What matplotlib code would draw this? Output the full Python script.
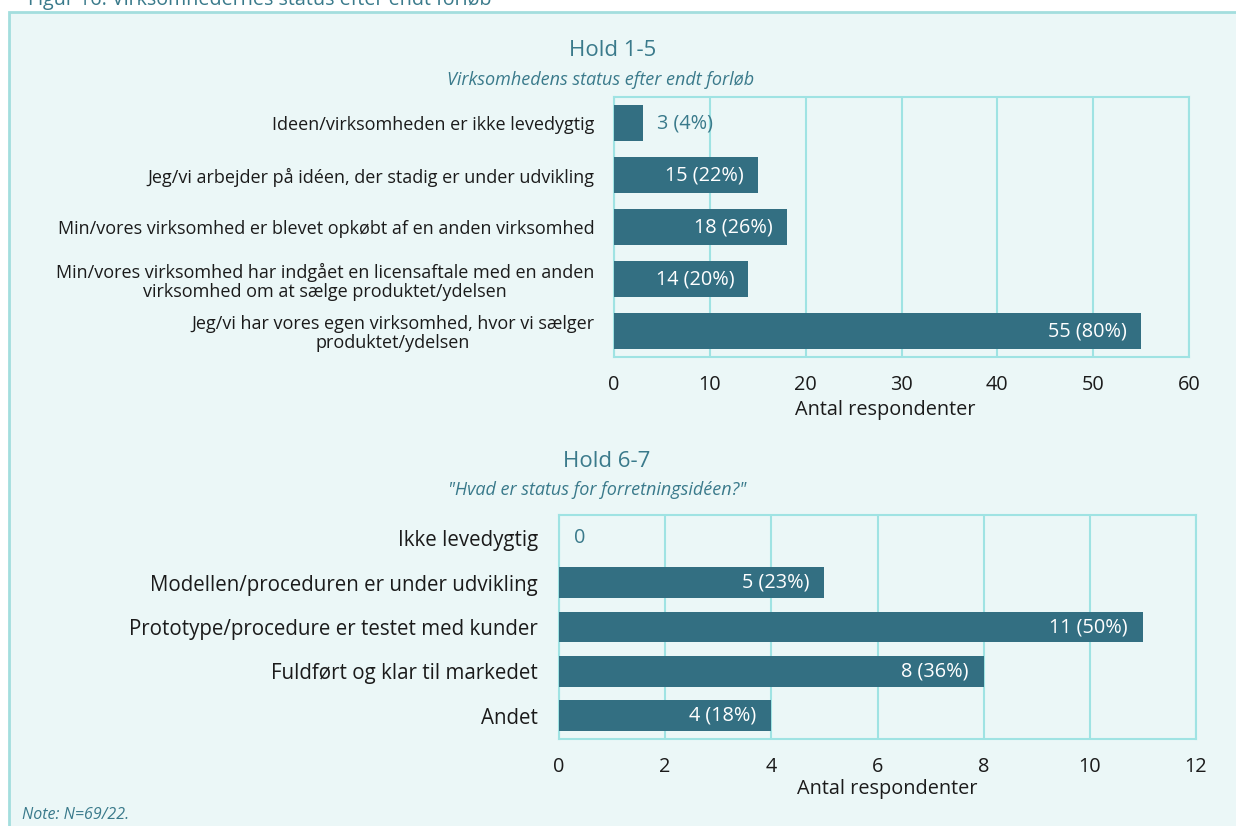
import matplotlib
matplotlib.use("Agg")
import matplotlib.pyplot as plt
from matplotlib.patches import Rectangle

plt.rcParams['font.family'] = ['Open Sans', 'DejaVu Sans']

# ---- data ----
cats1 = ["Ideen/virksomheden er ikke levedygtig",
         "Jeg/vi arbejder på idéen, der stadig er under udvikling",
         "Min/vores virksomhed er blevet opkøbt af en anden virksomhed",
         "Min/vores virksomhed har indgået en licensaftale med en anden\nvirksomhed om at sælge produktet/ydelsen",
         "Jeg/vi har vores egen virksomhed, hvor vi sælger\nproduktet/ydelsen"]
vals1 = [3, 15, 18, 14, 55]
pcts1 = [4, 22, 26, 20, 80]
ticks1 = [0, 10, 20, 30, 40, 50, 60]

cats2 = ["Ikke levedygtig",
         "Modellen/proceduren er under udvikling",
         "Prototype/procedure er testet med kunder",
         "Fuldført og klar til markedet",
         "Andet"]
vals2 = [0, 5, 11, 8, 4]
pcts2 = [0, 23, 50, 36, 18]
ticks2 = [0, 2, 4, 6, 8, 10, 12]

W, H = 1236, 826
BG = "#ebf7f7"
BORDER = "#a3dede"
GRID = "#9fe3e3"
BAR = "#336f82"
TEAL = "#3a7a8b"
DARK = "#1b1b1b"

fig = plt.figure(figsize=(W / 100, H / 100), dpi=100)
fig.patch.set_facecolor("white")
fig.patches.append(Rectangle((9 / W, -0.05), 1.1, 1.05 - 12 / H, transform=fig.transFigure,
                             facecolor=BG, edgecolor=BORDER, linewidth=2, zorder=-10))

fig.text(28 / W, 1 - 5 / H, "Figur 16: Virksomhedernes status efter endt forløb",
         fontsize=14.2, color=TEAL, ha="left", va="baseline")


def ax_rect(l, t, r, b):
    return [l / W, 1 - b / H, (r - l) / W, (b - t) / H]


def panel(rect, cats, vals, pcts, ticks, xmax, lblsize, pad_in, pad_out, ylims, xl_pos):
    ax = fig.add_axes(rect)
    ax.set_facecolor("none")
    y = list(range(len(cats)))
    ax.barh(y, vals, height=0.69, color=BAR, zorder=3)
    ax.set_xlim(0, xmax)
    ax.set_ylim(*ylims)
    ax.set_yticks(y)
    ax.set_yticklabels(cats, fontsize=lblsize, color=DARK, ha="right", multialignment="center",
                       linespacing=1.1)
    ax.set_xticks(ticks)
    ax.set_xticklabels([str(t) for t in ticks], fontsize=14.3, color=DARK)
    ax.tick_params(axis="both", length=0)
    ax.tick_params(axis="x", pad=13)
    ax.tick_params(axis="y", pad=pad_out)
    ax.grid(axis="x", color=GRID, linewidth=1.5, zorder=0)
    for s in ax.spines.values():
        s.set_color(GRID)
        s.set_linewidth(1.5)
    ax.set_xlabel("Antal respondenter", fontsize=14.3, color=DARK)
    ax.xaxis.label.set_verticalalignment("center")
    ax.xaxis.set_label_coords(*xl_pos)
    for yi, v, p in zip(y, vals, pcts):
        txt = f"{v} ({p}%)" if v > 0 else "0"
        if v >= xmax * 0.15:
            ax.annotate(txt, (v, yi), xytext=(-pad_in, 0), textcoords="offset pixels",
                        ha="right", va="center", color="white", fontsize=14.3, zorder=4)
        else:
            ax.annotate(txt, (v, yi), xytext=(pad_in, 0), textcoords="offset pixels",
                        ha="left", va="center", color=TEAL, fontsize=14.3, zorder=4)
    return ax


panel(ax_rect(614, 97, 1189, 357), cats1, vals1, pcts1, ticks1, 60, 13, 14, 14,
      (4.5, -0.5), (0.471, -0.205))
panel(ax_rect(559, 515, 1196, 739), cats2, vals2, pcts2, ticks2, 12, 14.8, 15, 15,
      (4.53, -0.53), (0.516, -0.222))

fig.text(613 / W, 1 - 51 / H, "Hold 1-5", fontsize=16, color=TEAL, ha="center", va="center")
fig.text(601 / W, 1 - 80 / H, "Virksomhedens status efter endt forløb", fontsize=13,
         color=TEAL, style="italic", ha="center", va="center")
fig.text(607 / W, 1 - 461 / H, "Hold 6-7", fontsize=16, color=TEAL, ha="center", va="center")
fig.text(597 / W, 1 - 490 / H, "\"Hvad er status for forretningsidéen?\"", fontsize=13,
         color=TEAL, style="italic", ha="center", va="center")
fig.text(22 / W, 1 - 815 / H, "Note: N=69/22.", fontsize=11.5, color=TEAL, style="italic",
         ha="left", va="center")

fig.savefig("out.png", dpi=100, facecolor=fig.get_facecolor())
